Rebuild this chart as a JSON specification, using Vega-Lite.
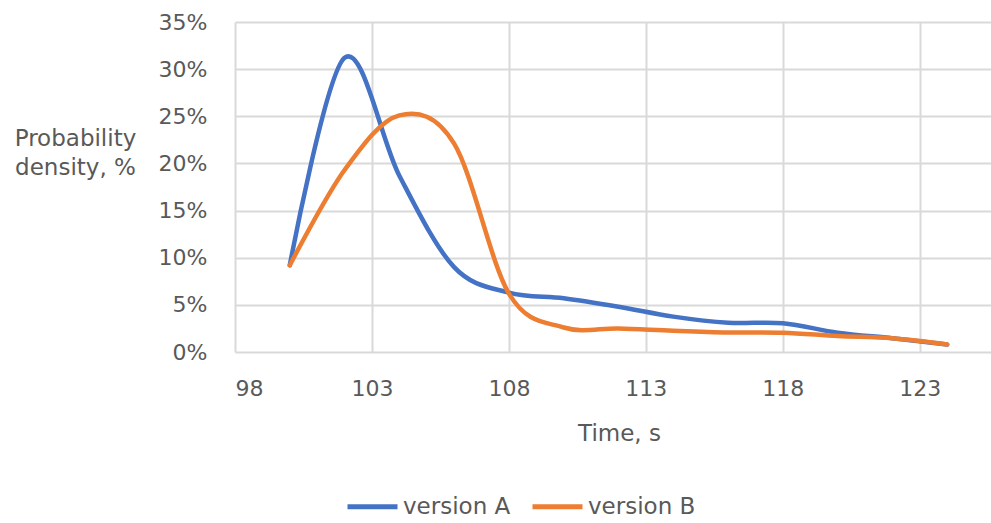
{
  "$schema": "https://vega.github.io/schema/vega-lite/v6.json",
  "width": 756,
  "height": 330,
  "autosize": "none",
  "padding": {"left": 235, "top": 22, "right": 0, "bottom": 171},
  "background": "white",
  "config": {
    "font": "DejaVu Sans",
    "view": {"stroke": null}
  },
  "data": {
    "values": [
      {"series": "version A", "time": 100, "density": 0.092},
      {"series": "version A", "time": 102, "density": 0.312},
      {"series": "version A", "time": 104, "density": 0.187},
      {"series": "version A", "time": 106, "density": 0.090},
      {"series": "version A", "time": 108, "density": 0.063},
      {"series": "version A", "time": 110, "density": 0.057},
      {"series": "version A", "time": 112, "density": 0.048},
      {"series": "version A", "time": 114, "density": 0.0375},
      {"series": "version A", "time": 116, "density": 0.031},
      {"series": "version A", "time": 118, "density": 0.0305},
      {"series": "version A", "time": 120, "density": 0.0205},
      {"series": "version A", "time": 122, "density": 0.0145},
      {"series": "version A", "time": 124, "density": 0.008},
      {"series": "version B", "time": 100, "density": 0.092},
      {"series": "version B", "time": 102, "density": 0.193},
      {"series": "version B", "time": 104, "density": 0.251},
      {"series": "version B", "time": 106, "density": 0.221},
      {"series": "version B", "time": 108, "density": 0.062},
      {"series": "version B", "time": 110, "density": 0.026},
      {"series": "version B", "time": 112, "density": 0.025},
      {"series": "version B", "time": 114, "density": 0.0226},
      {"series": "version B", "time": 116, "density": 0.0208},
      {"series": "version B", "time": 118, "density": 0.0205},
      {"series": "version B", "time": 120, "density": 0.017},
      {"series": "version B", "time": 122, "density": 0.0145},
      {"series": "version B", "time": 124, "density": 0.008}
    ]
  },
  "mark": {"type": "line", "interpolate": "cardinal", "tension": 0, "strokeWidth": 4.5, "strokeCap": "round", "clip": false},
  "encoding": {
    "x": {
      "field": "time",
      "type": "quantitative",
      "scale": {"domain": [98, 125.6], "nice": false, "zero": false},
      "axis": {
        "values": [98, 103, 108, 113, 118, 123],
        "title": "Time, s",
        "titleFontSize": 23,
        "titleFontWeight": "normal",
        "titleColor": "#595959",
        "titleX": 384,
        "titleY": 81,
        "titleBaseline": "middle",
        "titleAlign": "center",
        "labelFontSize": 22,
        "labelColor": "#595959",
        "labelPadding": 26,
        "ticks": false,
        "domain": false,
        "grid": true,
        "gridColor": "#d9d9d9",
        "gridWidth": 2
      }
    },
    "y": {
      "field": "density",
      "type": "quantitative",
      "scale": {"domain": [0, 0.35], "nice": false},
      "axis": {
        "values": [0, 0.05, 0.1, 0.15, 0.2, 0.25, 0.3, 0.35],
        "format": ".0%",
        "title": ["Probability", "density, %"],
        "titleFontSize": 23,
        "titleFontWeight": "normal",
        "titleColor": "#595959",
        "titleAngle": 0,
        "titleAlign": "center",
        "titleBaseline": "middle",
        "titleLineHeight": 29,
        "titleX": -160,
        "titleY": 116,
        "labelFontSize": 22,
        "labelColor": "#595959",
        "labelPadding": 28,
        "ticks": false,
        "domain": false,
        "grid": true,
        "gridColor": "#d9d9d9",
        "gridWidth": 2
      }
    },
    "color": {
      "field": "series",
      "type": "nominal",
      "scale": {"domain": ["version A", "version B"], "range": ["#4472C4", "#ED7D31"]},
      "legend": {
        "title": null,
        "orient": "none",
        "direction": "horizontal",
        "legendX": 110,
        "legendY": 457,
        "symbolType": "stroke",
        "symbolSize": 2500,
        "symbolStrokeWidth": 5,
        "labelFontSize": 23,
        "labelColor": "#595959",
        "labelOffset": 3,
        "columnPadding": 11
      }
    }
  }
}
